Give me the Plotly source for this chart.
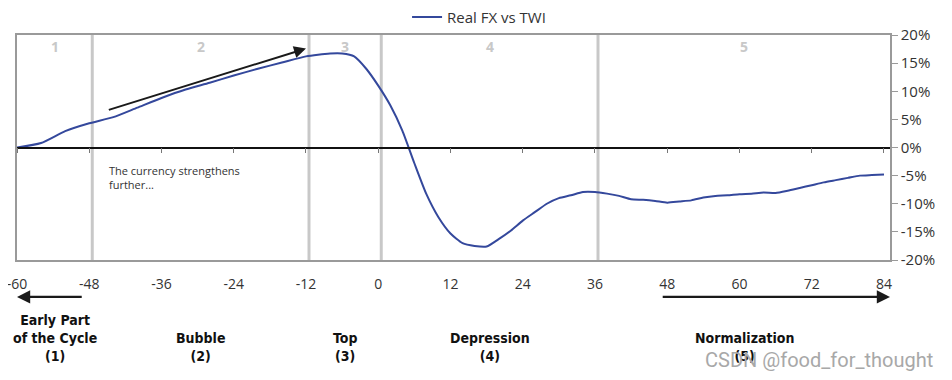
import plotly.graph_objects as go

# ---------------- data ----------------
months = [-60, -56, -52, -48, -44, -40, -36, -32, -28, -24, -20, -16, -12, -10, -8, -6, -4, -2,
          0, 2, 4, 6, 8, 10, 12, 14, 16, 18, 20, 22, 24, 26, 28, 30, 32, 34, 36, 38, 40, 42,
          44, 46, 48, 50, 52, 54, 56, 58, 60, 62, 64, 66, 68, 70, 72, 74, 76, 78, 80, 82, 84]
real_fx = [0.0, 0.8, 2.9, 4.3, 5.4, 7.1, 8.8, 10.3, 11.5, 12.8, 14.0, 15.1, 16.2, 16.5, 16.7, 16.7, 16.2, 14.0,
           11.0, 7.5, 3.0, -2.8, -8.3, -12.4, -15.3, -17.0, -17.5, -17.6, -16.3, -14.8, -13.0, -11.5, -10.0, -9.0, -8.5, -7.9,
           -7.9, -8.2, -8.6, -9.2, -9.3, -9.5, -9.8, -9.6, -9.4, -8.9, -8.6, -8.5, -8.3, -8.2, -8.0, -8.1,
           -7.7, -7.2, -6.7, -6.2, -5.8, -5.4, -5.0, -4.9, -4.8]

x_ticks = [-60, -48, -36, -24, -12, 0, 12, 24, 36, 48, 60, 72, 84]
x_tick_text = ["-60", "-48", "-36", "-24", "-12", "0", "12", "24", "36", "48", "60", "72", "84"]
y_ticks = [20, 15, 10, 5, 0, -5, -10, -15, -20]
y_tick_text = ["20%", "15%", "10%", "5%", "0%", "-5%", "-10%", "-15%", "-20%"]

phase_bounds = [-47.5, -11.5, 0.5, 36.5]
phase_centers = [-53.75, -29.5, -5.5, 18.5, 60.75]
phase_numbers = ["1", "2", "3", "4", "5"]
phase_names = ["Early Part<br>of the Cycle<br>(1)", "Bubble<br>(2)", "Top<br>(3)",
               "Depression<br>(4)", "Normalization<br>(5)"]

arrow_start = (-45, 6.6)
arrow_end = (-12, 17.6)
left_arrow = (-49, -60)    # tail, head (months)
right_arrow = (47, 85)     # tail, head (months)

BLUE = "#34489c"
GRAY = "#c8c8c8"
AXGRAY = "#9a9a9a"
TXT = "#333333"
FONT = "Open Sans"
NARROW = "DejaVu Sans Condensed, Roboto, sans-serif"

fig = go.Figure()
fig.add_trace(go.Scatter(x=months, y=real_fx, mode="lines", name="Real FX vs TWI",
                         line=dict(color=BLUE, width=2, shape="spline", smoothing=0.6)))
# helper invisible trace so the zero-line axis (x2) is drawn
fig.add_trace(go.Scatter(x=[months[0], months[-1]], y=[0, 0], xaxis="x2", mode="lines",
                         line=dict(width=0), opacity=0, showlegend=False, hoverinfo="skip"))

for b in phase_bounds:
    fig.add_shape(type="line", x0=b, x1=b, y0=0, y1=1, xref="x", yref="paper",
                  line=dict(color=GRAY, width=3), layer="below")

for c, n in zip(phase_centers, phase_numbers):
    fig.add_annotation(x=c, y=0.95, xref="x", yref="paper", yanchor="middle",
                       text="<b>" + n + "</b>",
                       showarrow=False, font=dict(family=FONT, size=14, color=GRAY))

for c, n in zip(phase_centers, phase_names):
    fig.add_annotation(x=c, y=-0.47, xref="x", yref="paper", text="<b>" + n + "</b>",
                       showarrow=False, yanchor="bottom", align="center",
                       font=dict(family=NARROW, size=14, color="#111111"))

# upper arrow
fig.add_annotation(x=arrow_end[0], y=arrow_end[1], ax=arrow_start[0], ay=arrow_start[1],
                   xref="x", yref="y", axref="x", ayref="y", text="", showarrow=True,
                   arrowhead=2, arrowsize=1.2, arrowwidth=2, arrowcolor="#1a1a1a", standoff=0)
fig.add_annotation(x=-45, y=-5.4, xref="x", yref="y", xanchor="left", yanchor="middle",
                   align="left",
                   text="The currency strengthens<br>further...", showarrow=False,
                   font=dict(family=FONT, size=11, color=TXT))

# bottom arrows
for tail, head in (left_arrow, right_arrow):
    fig.add_annotation(x=head, y=-0.164, ax=tail, ay=0, xref="x", yref="paper",
                       axref="x", ayref="pixel", text="", showarrow=True,
                       arrowhead=2, arrowsize=1.2, arrowwidth=2.2,
                       arrowcolor="#1a1a1a", standoff=0)

# watermark
fig.add_annotation(x=1.052, y=-0.445, xref="paper", yref="paper", xanchor="right", yanchor="middle",
                   text="CSDN @food_for_thought", showarrow=False,
                   font=dict(family="Roboto", size=20, color="#a8a8a8"))

fig.update_layout(
    width=944, height=372,
    margin=dict(l=9, r=62, t=27, b=120, autoexpand=False),
    paper_bgcolor="white", plot_bgcolor="white",
    showlegend=True,
    legend=dict(orientation="h", xref="container", yref="container",
                x=0.499, xanchor="center", y=0.975, yanchor="middle",
                font=dict(family=FONT, size=15, color=TXT), bgcolor="rgba(0,0,0,0)"),
    xaxis=dict(range=[-60, 85], tickvals=x_ticks, ticktext=x_tick_text, showgrid=False,
               zeroline=False, automargin=False, ticklabeloverflow="allow",
               showline=True, mirror=True, linecolor=AXGRAY, linewidth=1.5, ticks="",
               ticklabelstandoff=10,
               tickfont=dict(family=FONT, size=14, color=TXT)),
    xaxis2=dict(range=[-60, 85], tickvals=x_ticks, overlaying="x", anchor="free", position=0.5,
                showgrid=False, zeroline=False, showline=True, linecolor="#111111", linewidth=1.5,
                ticks="outside", ticklen=5, tickcolor="#777777", showticklabels=False,
                automargin=False),
    yaxis=dict(range=[-20, 20], side="right", tickvals=y_ticks, ticktext=y_tick_text,
               showgrid=False, zeroline=False, showline=True, mirror=True, linecolor=AXGRAY,
               linewidth=1.5, ticks="outside", ticklen=6, tickcolor=AXGRAY, automargin=False,
               ticklabeloverflow="allow",
               tickfont=dict(family=FONT, size=15, color=TXT)),
)

fig.write_html("out.html")
